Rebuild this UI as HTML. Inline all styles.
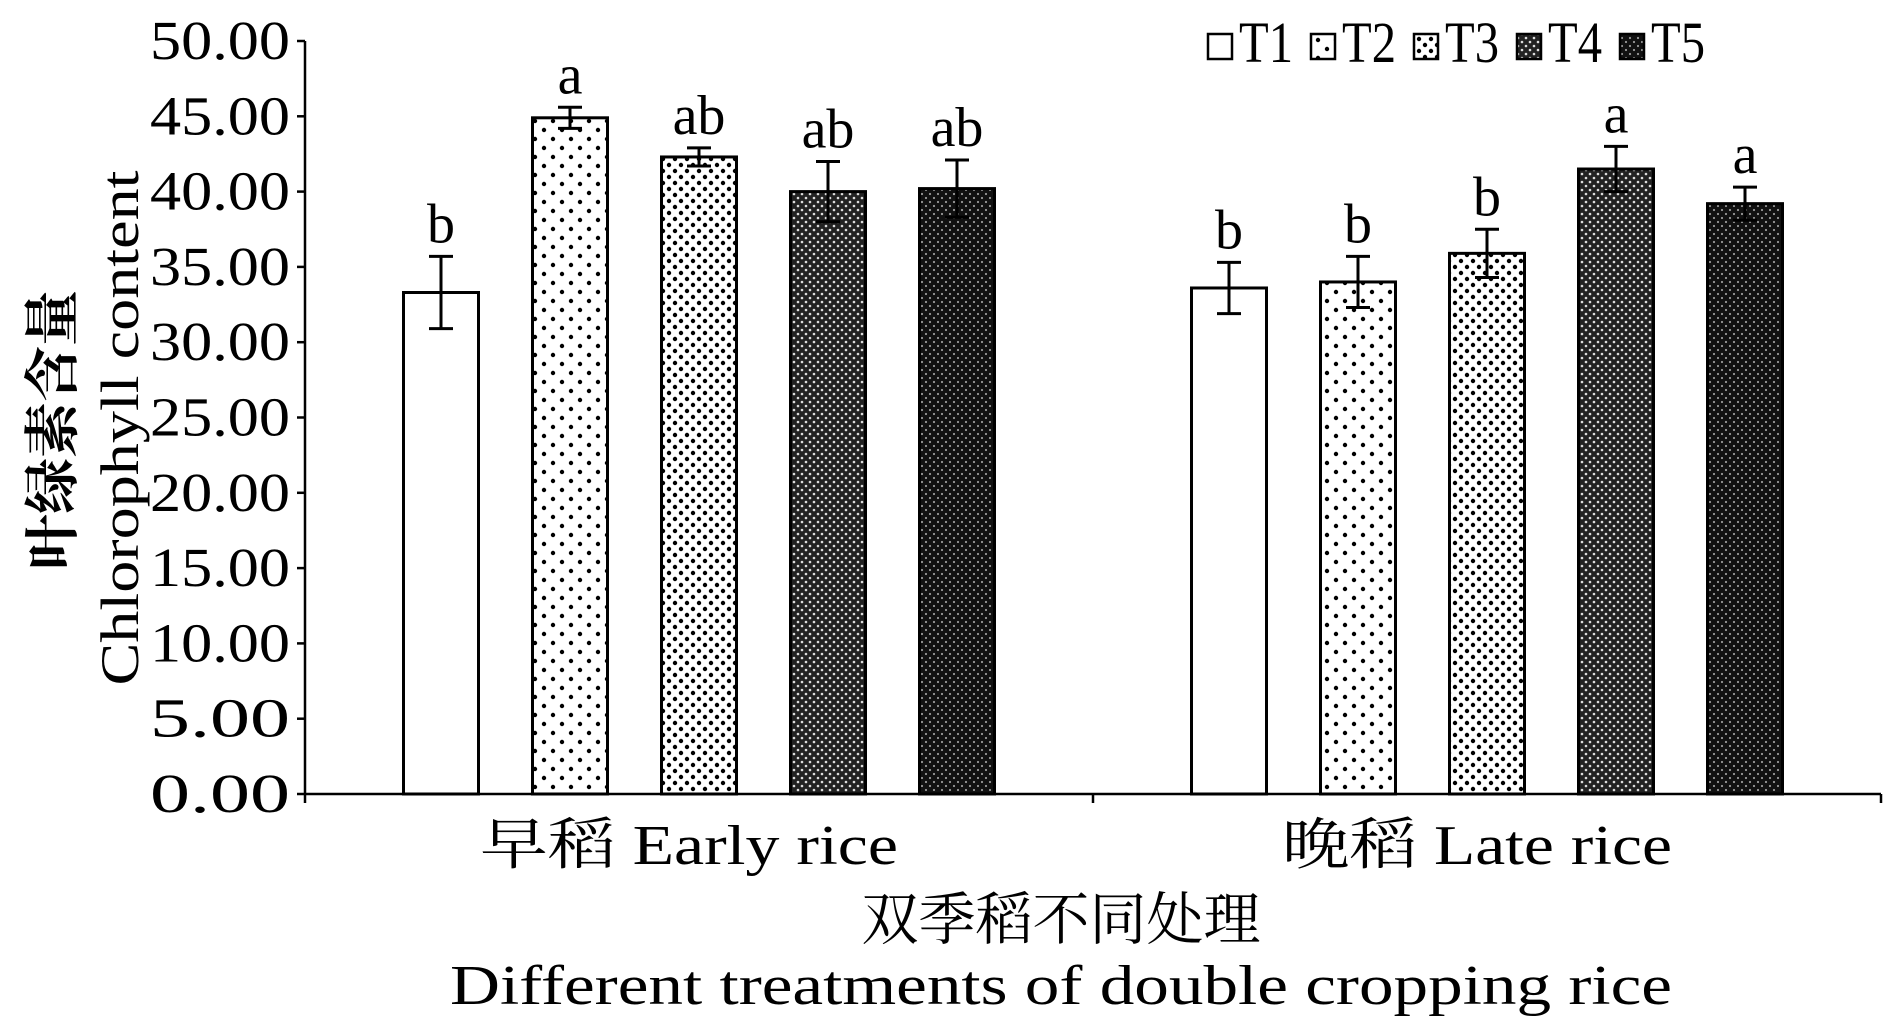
<!DOCTYPE html>
<html><head><meta charset="utf-8"><style>
html,body{margin:0;padding:0;background:#fff;}
svg{display:block;}
text{font-family:"Liberation Serif","Noto Serif CJK SC",serif;fill:#000;}
</style></head><body>
<svg id="chart" width="1890" height="1027" viewBox="0 0 1890 1027" xmlns="http://www.w3.org/2000/svg">
<defs>
<pattern id="p2" width="18" height="18" patternUnits="userSpaceOnUse"><rect width="18" height="18" fill="#fff"/><circle cx="4" cy="4" r="2.2" fill="#000"/><circle cx="13" cy="13" r="2.2" fill="#000"/></pattern>
<pattern id="p3" width="12" height="12" patternUnits="userSpaceOnUse"><rect width="12" height="12" fill="#fff"/><circle cx="3" cy="3" r="2.2" fill="#000"/><circle cx="9" cy="9" r="2.2" fill="#000"/></pattern>
<pattern id="p4" width="8" height="8" patternUnits="userSpaceOnUse"><rect width="8" height="8" fill="#222"/><circle cx="2" cy="2" r="1.3" fill="#ddd"/><circle cx="6" cy="6" r="1.3" fill="#ddd"/></pattern>
<pattern id="p5" width="8" height="8" patternUnits="userSpaceOnUse"><rect width="8" height="8" fill="#111"/><circle cx="2" cy="2" r="1.1" fill="#999"/><circle cx="6" cy="6" r="1.1" fill="#999"/></pattern>
</defs>
<g id="plot"></g>
<text transform="translate(72,430) rotate(-90)" text-anchor="middle" font-size="56" font-weight="bold">叶绿素含量</text>
<text transform="translate(138,428) rotate(-90)" text-anchor="middle" font-size="54" textLength="515" lengthAdjust="spacingAndGlyphs">Chlorophyll content</text>
<text x="1061" y="939" text-anchor="middle" font-size="57">双季稻不同处理</text>
<text x="1061" y="1004" text-anchor="middle" font-size="56" textLength="1222" lengthAdjust="spacingAndGlyphs">Different treatments of double cropping rice</text>
</svg>
<script>
const categories = ["早稻 Early rice", "晚稻 Late rice"];
const seriesNames = ["T1","T2","T3","T4","T5"];
const means = [[33.3,44.9,42.3,40.0,40.2],[33.6,34.0,35.9,41.5,39.2]];
const errors = [[2.4,0.7,0.6,2.0,1.9],[1.7,1.7,1.6,1.5,1.1]];
const letters = [["b","a","ab","ab","ab"],["b","b","b","a","a"]];
const yTicks = [0,5,10,15,20,25,30,35,40,45,50];

const NS="http://www.w3.org/2000/svg";
const g=document.getElementById('plot');
const x0=305,x1=1881,yTop=41,yBot=794,yMax=50;
const y=v=>yBot-(v/yMax)*(yBot-yTop);
const catW=(x1-x0)/categories.length, barW=75, step=129;
const fills=["#fff","url(#p2)","url(#p3)","url(#p4)","url(#p5)"];
const catLens=[418,390];
function mk(t,a){const e=document.createElementNS(NS,t);for(const k in a)e.setAttribute(k,a[k]);g.appendChild(e);return e;}
let ax=mk('line',{x1:x0,y1:yTop,x2:x0,y2:yBot,stroke:'#000','stroke-width':2.5});


ax=mk('line',{x1:x0,y1:yBot,x2:x1,y2:yBot,stroke:'#000','stroke-width':2.5});


yTicks.forEach(v=>{
  mk('line',{x1:x0-8,y1:y(v),x2:x0,y2:y(v),stroke:'#000','stroke-width':2.5});
  const t=mk('text',{x:290,y:y(v)+18,'text-anchor':'end','font-size':55,textLength:140,lengthAdjust:'spacingAndGlyphs'});
  t.textContent=v.toFixed(2);
  
  
});
for(let i=0;i<=categories.length;i++){mk('line',{x1:x0+i*catW,y1:yBot,x2:x0+i*catW,y2:yBot+9,stroke:'#000','stroke-width':2.5});}
categories.forEach((c,ci)=>{
  const cx=x0+ci*catW+catW/2;
  const t=mk('text',{x:cx-10,y:864,'text-anchor':'middle','font-size':56,textLength:catLens[ci],lengthAdjust:'spacingAndGlyphs'});
  t.textContent=c;
  
  
  const start=cx-(step*(seriesNames.length-1)+barW)/2;
  means[ci].forEach((m,si)=>{
    const bx=start+si*step;
    const r=mk('rect',{x:bx,y:y(m),width:barW,height:yBot-y(m),fill:fills[si],stroke:'#000','stroke-width':3});
    
    
    const mx=bx+barW/2,e=errors[ci][si];
    const eb=mk('path',{d:`M${mx} ${y(m+e)}V${y(m-e)}M${mx-12} ${y(m+e)}H${mx+12}M${mx-12} ${y(m-e)}H${mx+12}`,stroke:'#000','stroke-width':3,fill:'none'});
    
    
    const l=mk('text',{x:mx,y:y(m+e)-14,'text-anchor':'middle','font-size':56});
    l.textContent=letters[ci][si];
    
    
  });
});
seriesNames.forEach((s,si)=>{
  const lx=1208+si*103;
  const sw=mk('rect',{x:lx,y:34,width:24,height:25,fill:fills[si],stroke:'#000','stroke-width':2.5});
  
  
  const t=mk('text',{x:lx+31,y:62,'font-size':58,textLength:54,lengthAdjust:'spacingAndGlyphs'});
  t.textContent=s;
  
  
});
</script>
</body></html>
